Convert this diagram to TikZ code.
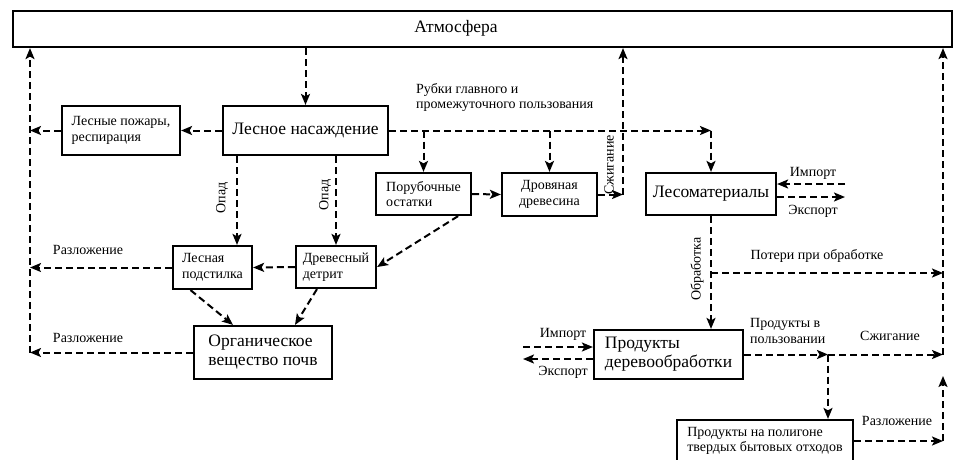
\documentclass[tikz,border=0pt]{standalone}
\usepackage{fontspec}
\setmainfont{Liberation Serif}
\usetikzlibrary{arrows.meta, positioning}

\begin{document}
\begin{tikzpicture}[x=1pt, y=-1pt,
  box/.style={draw, line width=2.2pt, inner sep=0pt, align=left},
  big/.style={font=\fontsize{17.5}{19}\selectfont},
  small/.style={font=\fontsize{14}{15.5}\selectfont},
  flow/.style={line width=2pt, dash pattern=on 7pt off 4pt,
    -{Stealth[length=11pt, width=9pt, inset=2.5pt]}},
  lbl/.style={small, inner sep=1pt, align=left}
]
\useasboundingbox (0,0) rectangle (954,459);

% Atmosphere
\node[box, minimum width=939pt, minimum height=36pt] (atm) at (482.5,29) {};
\node[big] (atmtxt) at (456,28) {Атмосфера};

% Forest part
\node[box, small, minimum width=118pt, minimum height=49pt] (fire) at (121,130.5) {Лесные пожары,\\респирация};
\node[box, big, minimum width=165pt, minimum height=49pt] (nas) at (305.5,130.5) {Лесное насаждение};
\node[box, small, minimum width=79pt, minimum height=43pt] (pod) at (212.5,267.5) {Лесная\\подстилка};
\node[box, small, minimum width=80pt, minimum height=42pt] (det) at (336,267) {Древесный\\детрит};
\node[box, big, minimum width=138pt, minimum height=53pt] (org) at (263,352.5) {Органическое\\вещество почв};

% Harvest part
\node[box, small, minimum width=95pt, minimum height=42pt] (por) at (423.5,194) {Порубочные\\остатки};
\node[box, small, align=center, minimum width=95pt, minimum height=43pt] (drov) at (549.5,194.5) {Дровяная\\древесина};
\node[box, big, minimum width=130pt, minimum height=42pt] (les) at (711,194) {Лесоматериалы};
\node[box, big, minimum width=149pt, minimum height=49pt] (prod) at (668.5,354.5) {Продукты\\деревообработки};
\node[box, small, minimum width=176pt, minimum height=42pt] (pol) at (765,441) {Продукты на полигоне\\твердых бытовых отходов};

% Helper points
\coordinate (lft) at (30,352.5);
\coordinate (rt) at (943,354.5);
\coordinate (rtlow) at (943,376);
\coordinate (fall) at (237,0);
\coordinate (burn) at (623,194.5);
\coordinate (loss) at (711,273);
\coordinate (jn) at (828,354.5);
\coordinate (limp) at (845,184);
\coordinate (lexp) at (845,197);
\coordinate (pimp) at (523,347);
\coordinate (pexp) at (523,359);

% Atmosphere to stand and back
\draw[flow] (nas.north |- atm.south) -- (nas.north);
\draw[flow] (nas.west) -- (fire.east);
\draw[flow] (fire.west) -- (fire.west -| lft);
\draw[flow] (pod.west) -- (pod.west -| lft);
\draw[flow] (org.west) -- (lft);
\draw[flow] (lft) -- (lft |- atm.south);

% Litterfall
\draw[flow] (fall |- nas.south) -- (fall |- pod.north);
\draw[flow] (det.north |- nas.south) -- (det.north);
\draw[flow] (det.west) -- (pod.east);
\draw[flow] ([xshift=-14pt]por.south east) -- (det.east);
\draw[flow] ([xshift=-22pt]pod.south) -- ([xshift=-30pt]org.north);
\draw[flow] ([xshift=-19pt]det.south) -- ([xshift=32pt]org.north);

% Harvest
\draw[flow] (nas.east) -- (les.north |- nas.east);
\draw[flow] (les.north |- nas.east) -- (les.north);
\draw[flow] (por.north |- nas.east) -- (por.north);
\draw[flow] (drov.north |- nas.east) -- (drov.north);
\draw[flow] (por.east) -- (drov.west);
\draw[flow] (drov.east) -- (burn);
\draw[flow] (burn) -- (burn |- atm.south);

% Processing and products
\draw[flow] (les.south) -- (les.south |- prod.north);
\draw[flow] (loss) -- (loss -| rt);
\draw[flow] (prod.east) -- (jn);
\draw[flow] (jn) -- (rt);
\draw[flow] (rt) -- (rt |- atm.south);
\draw[flow] (jn) -- (jn |- pol.north);
\draw[flow] (pol.east) -- (pol.east -| rt);
\draw[flow] (pol.east -| rt) -- (rtlow);

% Import / export
\draw[flow] (limp) -- (limp -| les.east);
\draw[flow] (lexp -| les.east) -- (lexp);
\draw[flow] (pimp) -- (pimp -| prod.west);
\draw[flow] (pexp -| prod.west) -- (pexp);

% Labels
\node[lbl, anchor=west] (cut) at (415,97.5) {Рубки главного и\\промежуточного пользования};
\node[lbl, rotate=90] (fall1) at (222,198) {Опад};
\node[lbl, rotate=90] (fall2) at (325,195) {Опад};
\node[lbl, rotate=90] (burn1) at (609,165) {Сжигание};
\node[lbl, rotate=90] (proc) at (697,269) {Обработка};
\node[lbl] (dec1) at (88,250) {Разложение};
\node[lbl] (dec2) at (88,338) {Разложение};
\node[lbl] (losstxt) at (817,256) {Потери при обработке};
\node[lbl] (imp1) at (813,173) {Импорт};
\node[lbl] (exp1) at (813,211) {Экспорт};
\node[lbl] (imp2) at (563,334) {Импорт};
\node[lbl] (exp2) at (563,372) {Экспорт};
\node[lbl, anchor=west] (use) at (749,331) {Продукты в\\пользовании};
\node[lbl] (burn2) at (890,336) {Сжигание};
\node[lbl] (dec3) at (897,421) {Разложение};
\end{tikzpicture}
\end{document}
